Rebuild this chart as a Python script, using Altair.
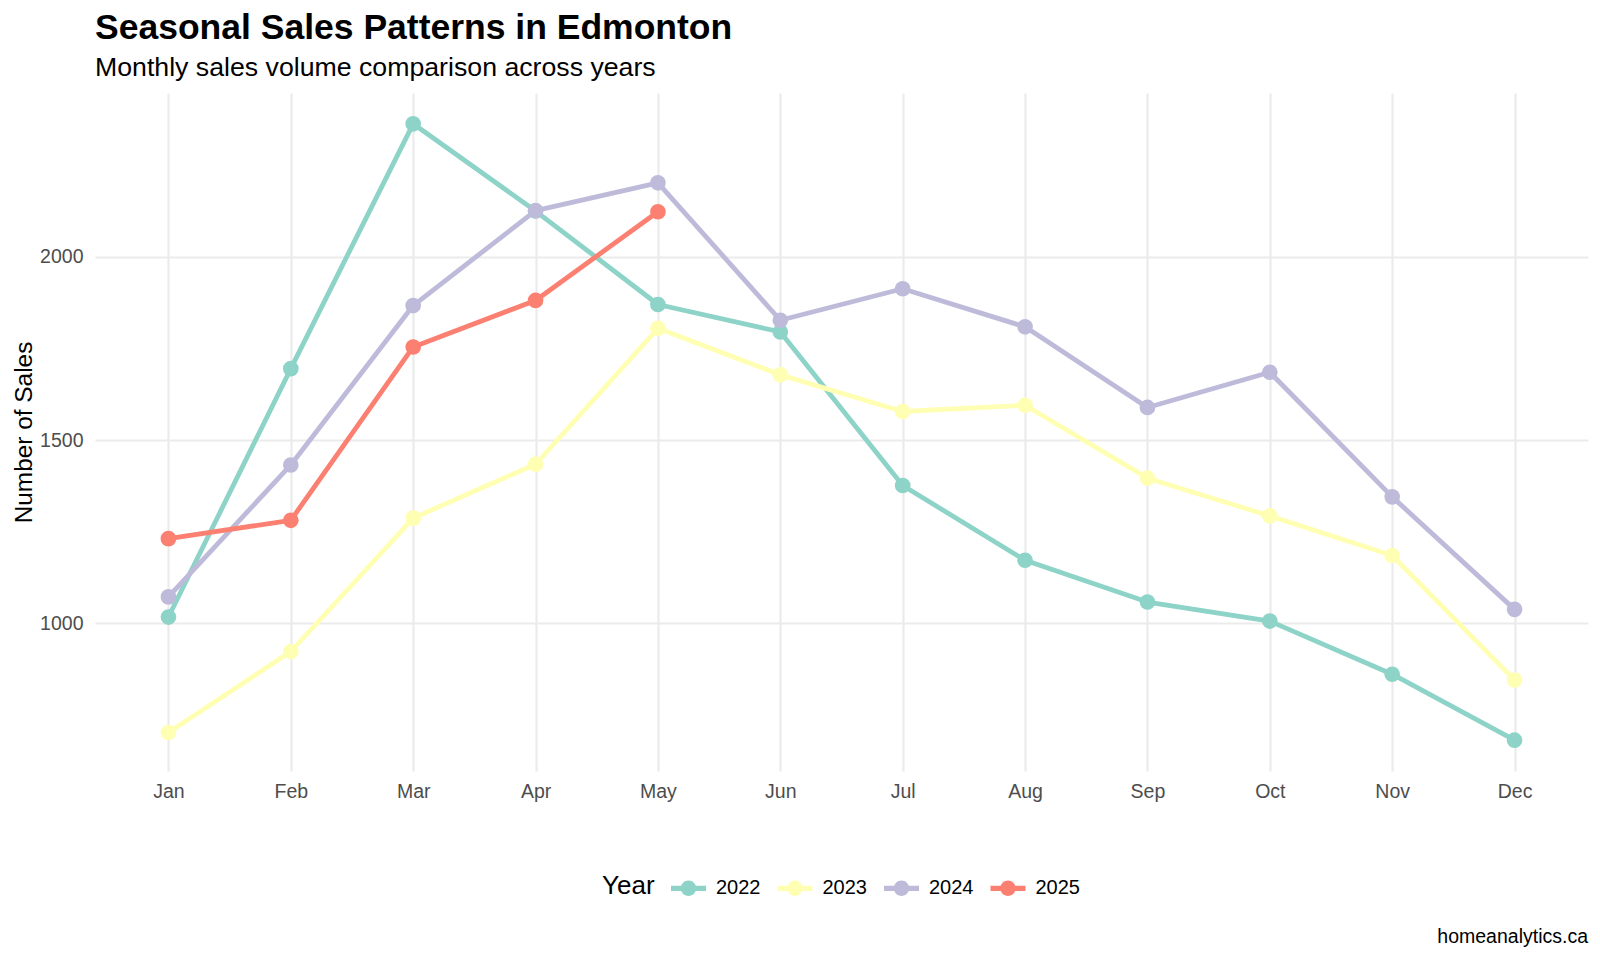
import altair as alt
import pandas as pd

# ---- data ----
months = ["Jan", "Feb", "Mar", "Apr", "May", "Jun", "Jul", "Aug", "Sep", "Oct", "Nov", "Dec"]
years = ["2022", "2023", "2024", "2025"]
sales_2022 = [1017, 1695, 2363, 2125, 1870, 1795, 1376, 1172, 1058, 1006, 861, 681]
sales_2023 = [702, 923, 1287, 1434, 1805, 1678, 1578, 1595, 1396, 1293, 1185, 845]
sales_2024 = [1072, 1432, 1867, 2126, 2202, 1827, 1913, 1809, 1589, 1685, 1345, 1038]
sales_2025 = [1231, 1281, 1754, 1881, 2123]
year_colors = ["#8DD3C7", "#FFFFB3", "#BEBADA", "#FB8072"]
y_ticks = [1000, 1500, 2000]
title_text = "Seasonal Sales Patterns in Edmonton"
subtitle_text = "Monthly sales volume comparison across years"
caption_text = "homeanalytics.ca"

rows = []
for yr, vals in zip(years, [sales_2022, sales_2023, sales_2024, sales_2025]):
    for m, v in zip(months, vals):
        rows.append({"Month": m, "Year": yr, "Sales": v})
df = pd.DataFrame(rows)

lo, hi = min(df.Sales), max(df.Sales)
pad = (hi - lo) * 0.05
y_domain = [lo - pad, hi + pad]

FONT = "Liberation Sans"
W, H = 1493, 678

legend = alt.Legend(
    orient="none", legendX=507, legendY=777.5, direction="horizontal", columns=4,
    title="Year", titleOrient="left", titleAnchor="end", titleBaseline="bottom",
    titleFont=FONT, titleFontSize=26, titleFontWeight="normal", titleColor="black",
    titlePadding=16, titleLineHeight=30,
    labelFont=FONT, labelFontSize=20, labelColor="black", labelOffset=10,
    columnPadding=16.5,
    symbolType="M-1,-0.15H1V0.15H-1Z M0.44,0A0.44,0.44 0 1,1 -0.44,0A0.44,0.44 0 1,1 0.44,0Z",
    symbolSize=1225, symbolStrokeWidth=0, symbolOpacity=1,
)

x_enc = alt.X("Month:N", sort=months,
              scale=alt.Scale(type="point", padding=0.6),
              axis=alt.Axis(title=None, labelAngle=0, labelPadding=11))
y_enc = alt.Y("Sales:Q",
              scale=alt.Scale(domain=y_domain, nice=False, zero=False),
              axis=alt.Axis(values=y_ticks, format="d", title="Number of Sales", labelPadding=12,
                            titleX=-63.3, titleY=H / 2, titleAngle=270,
                            titleAlign="center", titleBaseline="alphabetic"))
color_enc = alt.Color("Year:N", scale=alt.Scale(domain=years, range=year_colors), legend=legend)

base = alt.Chart(df)
lines = base.mark_line(strokeWidth=4.8, strokeJoin="round", strokeCap="butt").encode(
    x=x_enc, y=y_enc, color=color_enc
)
points = base.mark_circle(size=245, opacity=1).encode(
    x=x_enc, y=y_enc, color=color_enc
)
caption = alt.Chart(pd.DataFrame({"caption": [caption_text]})).mark_text(
    align="right", baseline="alphabetic", font=FONT, fontSize=19.5, color="black"
).encode(x=alt.value(W), y=alt.value(850), text="caption:N")

chart = alt.layer(lines, points, caption).properties(
    width=W, height=H,
    autosize=alt.AutoSizeParams(type="none"),
    padding={"left": 87, "top": 85, "right": 4, "bottom": 181},
    background="white",
    title=alt.TitleParams(
        text=title_text, subtitle=subtitle_text, anchor="start", frame="group",
        font=FONT, fontSize=35.5, fontWeight="bold", color="black",
        subtitleFont=FONT, subtitleFontSize=26.7, subtitleColor="black",
        subtitleFontWeight="normal", offset=11.5, subtitlePadding=8,
    ),
).configure_view(stroke=None).configure_axis(
    grid=True, gridColor="#EBEBEB", gridWidth=2.2, domain=False, ticks=False, tickSize=0,
    labelFont=FONT, labelFontSize=19.5, labelColor="#4D4D4D",
    titleFont=FONT, titleFontSize=24.4, titleColor="black", titleFontWeight="normal",
)

chart.save("out.html", embed_options={"renderer": "svg", "actions": False})
